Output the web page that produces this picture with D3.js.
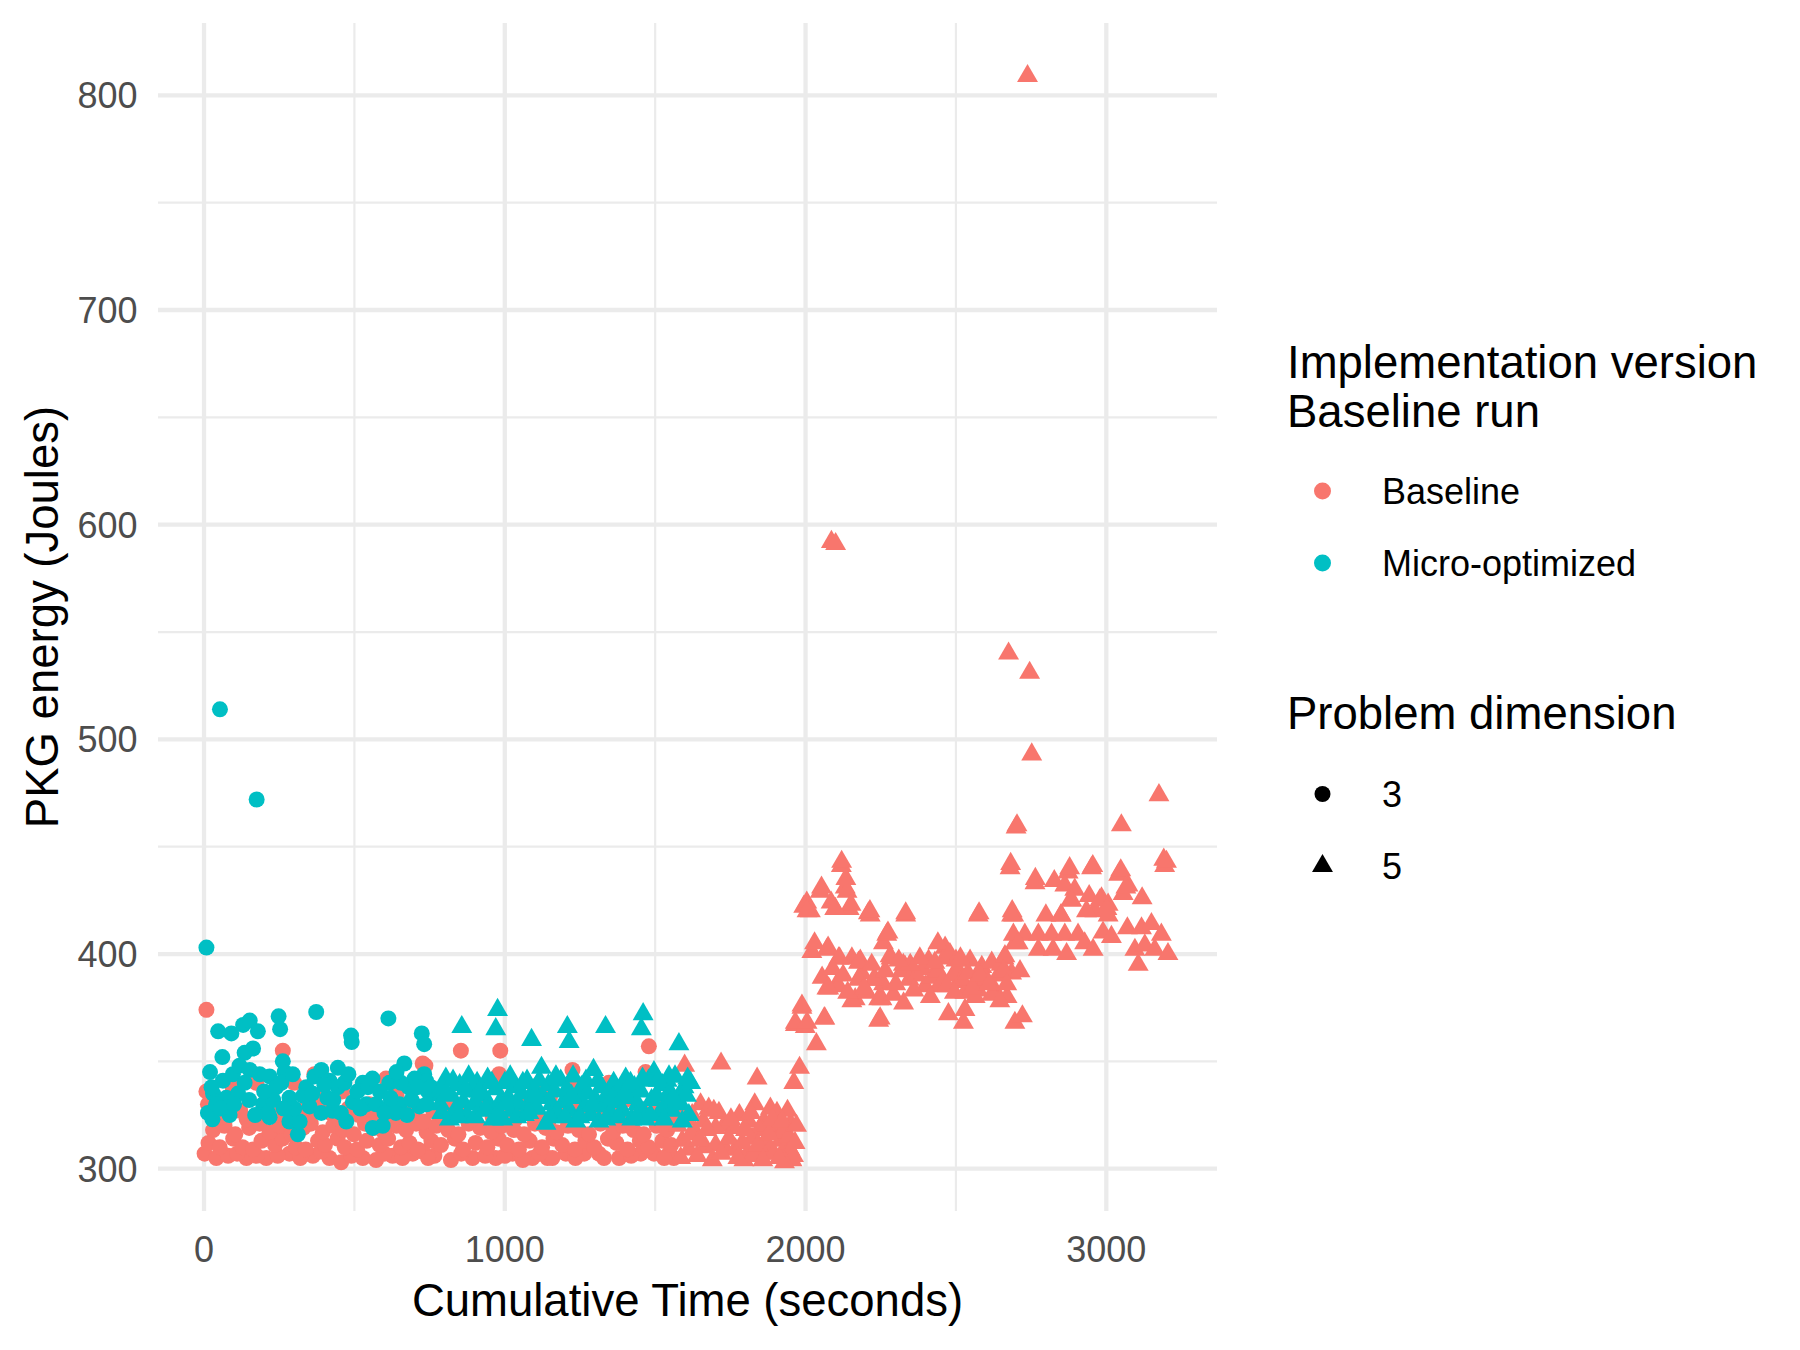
<!DOCTYPE html>
<html>
<head>
<meta charset="utf-8">
<script src="https://cdn.jsdelivr.net/npm/d3@7"></script>
<style>
  body { margin: 0; background: #fff; }
  svg { display: block; font-family: "Liberation Sans", Arial, Helvetica, sans-serif; }
</style>
</head>
<body>
<svg width="1800" height="1350"></svg>
<script>
WIDTH = 1800;
HEIGHT = 1350;

const versions = ['Baseline', 'Micro-optimized'];
const versionColors = ['#F8766D', '#00BFC4'];
const dimensions = ['3', '5'];
const xTicks = [0, 1000, 2000, 3000];
const xMinor = [500, 1500, 2500];
const yTicks = [300, 400, 500, 600, 700, 800];
const yMinor = [350, 450, 550, 650, 750];

// [cumulative time (s), PKG energy (J)]
const baselineDim3 = [
  [8,374],[262,355],[854,355],[985,355],[1479,357],[1225,346],[736,348],[727,349],[8,336],[13,330],
  [981,344],[174,340],[367,344],[373,333],[622,341],[605,342],[1346,340],[1468,345],[1220,340],[1100,338],
  [460,336],[300,340],[95,338],[560,324],[800,333],[1050,331],[1150,333],[1400,332],[1520,330],[640,334],
  [910,331],[1290,328],
  [2,307],[41,305],[80,306],[141,305],[207,305],[284,307],[362,306],[417,305],[456,303],[528,305],
  [572,304],[627,306],[694,307],[727,308],[766,306],[821,304],[893,305],[970,305],[1026,307],[1092,305],
  [1142,305],[1203,307],[1264,307],[1313,307],[1380,305],[1452,307],[1490,308],[1158,305],[1330,305],[1562,305],
  [1546,307],[1496,307],[110,307],[175,306],[245,306],[320,305],[390,308],[490,306],[600,307],[660,305],
  [745,305],[855,307],[935,306],[1000,306],[1060,304],[1115,307],[1235,305],[1420,306],[1530,305],
  [15,312],[52,310],[97,314],[128,310],[163,309],[191,313],[236,311],[261,314],[305,310],[338,309],
  [379,313],[402,311],[444,314],[468,310],[509,309],[541,313],[584,311],[612,314],[655,310],[683,312],
  [711,309],[756,313],[788,311],[834,314],[861,309],[903,312],[942,310],[979,314],[1008,311],[1047,309],
  [1083,313],[1124,310],[1162,314],[1191,311],[1233,309],[1268,313],[1297,310],[1343,314],[1371,312],[1408,309],
  [1449,313],[1478,310],[1524,313],[1553,311],
  [30,318],[68,320],[104,316],[150,319],[185,321],[218,317],[252,320],[290,316],[330,319],[355,321],
  [395,317],[430,320],[462,318],[498,316],[535,321],[566,319],[598,317],[640,320],[672,318],[705,321],
  [740,317],[772,320],[812,318],[846,316],[880,321],[918,319],[955,317],[990,320],[1030,318],[1064,316],
  [1100,321],[1136,319],[1172,317],[1210,320],[1246,318],[1280,316],[1318,321],[1360,317],[1392,320],[1428,318],
  [1462,316],[1505,320],[1540,318],
  [20,326],[58,324],[88,329],[120,327],[142,323],[205,328],[240,325],[275,322],[318,327],[345,324],
  [385,329],[420,326],[450,323],[480,328],[515,325],[550,330],[590,327],[628,323],[662,328],[698,325],
  [730,322],[762,327],[795,324],[826,329],[858,326],[890,323],[925,328],[960,324],[998,327],[1035,323],
  [1070,328],[1110,325],[1145,322],[1180,327],[1215,324],[1252,329],[1285,326],[1325,323],[1355,328],[1388,325],
  [1420,322],[1455,327],[1492,324],[1515,329],[1550,325]
];

const baselineDim5 = [
  [1598,348],[1719,349],[1839,342],[1651,330],[1678,328],[1623,325],[1728,320],[1761,319],[1701,319],[1831,330],
  [1883,328],[1861,322],[1811,322],[1900,319],[1950,321],[1822,314],[1867,313],[1916,313],[1938,311],[1955,304],
  [1634,317],[1667,310],[1701,311],[1734,309],[1767,309],[1806,306],[1850,307],[1883,309],[1590,313],[1612,309],
  [1980,347],[1961,340],[1575,320],[1585,305],[1605,323],[1640,306],[1660,322],[1690,304],[1712,326],[1745,314],
  [1780,325],[1790,312],[1795,304],[1825,306],[1845,318],[1870,320],[1895,307],[1905,326],[1925,317],[1940,327],
  [1948,309],[1960,306],[1930,303],
  [1580,328],[1618,316],[1645,313],[1672,318],[1695,327],[1720,307],[1752,323],[1775,305],[1800,318],[1818,326],
  [1842,311],[1858,304],[1878,316],[1890,323],[1912,305],[1922,322],[1945,315],[1965,312],[1970,320],
  [1988,375],[1966,367],[1999,366],[2064,370],[2036,358],
  [2021,401],[2071,402],[2110,398],[2154,398],[2182,397],[2259,405],[2055,389],[2104,386],[2071,384],[2187,391],
  [2232,388],[2259,386],[2165,379],[2243,379],[2243,369],[2030,405],[2075,403],[2113,398],[2176,396],[2281,399],
  [2331,394],[2351,394],[2409,397],[2464,403],[2461,398],[2547,397],[2586,394],[2660,398],[2685,391],[2696,405],
  [2110,385],[2077,384],[2176,388],[2226,388],[2204,382],[2154,378],[2254,379],[2292,381],[2326,377],[2398,385],
  [2442,385],[2508,387],[2530,382],[2574,383],[2630,383],[2619,396],[1988,376],[1966,368],[2005,368],[2062,370],
  [2248,370],[2475,372],[2530,374],[2696,368],[2525,368],[2619,381],[2564,380],[2320,392],[2345,388],[2370,390],
  [2390,393],[2420,389],[2440,392],[2455,387],[2490,390],[2505,393],[2520,388],[2540,391],[2560,386],[2600,388],
  [2640,390],[2440,405],[2480,400],[2500,397],[2325,395],[2348,395],[2284,398],
  [2090,393],[2125,390],[2140,382],[2195,384],[2220,395],[2265,392],[2300,386],[2310,397],[2360,383],[2380,398],
  [2415,380],[2430,396],[2470,385],[2495,382],[2515,398],[2555,384],[2580,390],[2610,386],[2650,395],[2670,380],
  [2119,441],[2049,429],[2132,431],[2138,429],[2097,421],[2145,421],[2209,419],[2215,418],[2333,418],[2574,418],
  [2692,418],[2270,409],[2085,424],[2053,431],[2004,424],[1994,422],[2016,420],[2151,423],[2214,420],[2274,410],
  [2333,419],[2577,419],[2687,420],[2005,420],[2099,421],
  [3175,474],[2700,459],[3050,460],[3191,444],[3194,441],[2680,440],[2763,433],[2827,434],[2873,438],[2862,432],
  [2895,430],[2951,440],[3041,437],[3072,432],[3056,428],[3119,426],[2881,425],[2984,426],[3006,423],[2962,420],
  [3006,418],[2685,418],[2799,418],[2849,418],[2934,420],[3070,412],[3117,412],[3150,414],[3183,409],[2691,409],
  [2729,409],[2774,409],[2818,409],[2862,409],[2906,409],[2707,405],[2774,402],[2823,402],[2868,400],[2928,405],
  [2956,402],[2989,410],[3017,408],[3095,402],[3128,404],[3161,402],[3205,400],[3106,395],[2663,399],[2658,392],
  [2713,392],[2669,386],[2646,378],[2721,371],[2878,440],[2764,435],[3065,431],[2943,427],[2978,425],[3002,421],
  [2850,418],[2885,425],
  [2738,809],[2086,592],[2100,591],[2675,540],[2745,531],[2752,493],[2703,460],[3200,443],[2120,443],[2682,442],
  [2955,441],[2134,435],[3048,439]
];

const microDim3 = [
  [53,514],[175,472],[8,403],
  [47,364],[91,363],[130,367],[152,369],[179,364],[248,371],[253,365],[373,373],[489,362],[491,359],[613,370],
  [724,363],[732,358],
  [61,352],[135,354],[163,356],[262,350],[268,345],[63,341],[96,344],[118,348],[152,346],[185,344],
  [218,343],[30,335],[74,333],[113,335],[13,326],[28,323],[196,330],[218,324],[240,338],[257,340],
  [284,333],[213,326],[284,322],[312,316],[318,322],[340,338],[367,343],[390,346],[417,341],[445,347],
  [351,329],[390,326],[428,327],[473,322],[445,338],[467,340],[528,340],[495,331],[539,330],[572,330],
  [616,340],[650,330],[666,349],[561,319],[594,320],[616,329],[638,326],[716,329],[732,344],
  [738,341],[760,335],[680,338],[700,342],[745,336],
  [20,345],[40,330],[85,325],[150,332],[170,325],[230,332],[300,328],[330,334],[410,333],[455,326],
  [510,336],[545,338],[585,336],[620,333],[655,340],[690,332],[740,330],[755,338],
  [25,338],[55,328],[100,330],[135,340],[200,336],[265,328],[295,344],[360,335],[400,339],[430,332],
  [480,344],[520,328],[560,342],[600,326],[640,345],[675,325],[710,338]
];

const microDim5 = [
  [857,366],[976,374],[970,365],[1089,360],[1208,366],[1214,359],[1335,366],[1460,372],[1454,365],[1579,358],
  [804,342],[1122,347],[1295,346],[1496,345],[943,342],[1540,341],[1596,338],[1546,343],
  [785,330],[792,338],[816,323],[822,334],[838,328],[850,339],[862,331],[875,325],[884,336],[897,330],
  [908,340],[918,327],[930,334],[951,329],[962,323],[970,337],[984,331],[993,323],[1000,340],[1012,333],
  [1024,327],[1033,338],[1045,330],[1056,335],[1065,325],[1074,341],[1086,332],[1098,337],[1108,328],[1128,333],
  [1137,321],[1145,339],[1156,330],[1166,336],[1175,326],[1186,341],[1195,331],[1206,337],[1216,327],[1227,343],
  [1236,322],[1244,333],[1255,338],[1266,329],[1276,335],[1286,325],[1302,332],[1313,322],[1320,338],[1331,329],
  [1342,335],[1352,326],[1362,340],[1372,331],[1383,337],[1392,327],[1402,342],[1412,333],[1422,323],[1431,338],
  [1442,330],[1452,336],[1462,326],[1468,323],[1478,341],[1488,332],[1505,334],[1515,326],[1524,339],[1535,330],
  [1548,336],[1556,327],[1566,343],[1575,332],[1585,330],[1604,334],[1612,325],[1618,340],
  [790,326],[808,335],[828,341],[845,324],[868,337],[880,343],[902,324],[915,336],[936,328],[957,340],
  [978,326],[1005,330],[1018,343],[1040,324],[1060,340],[1080,326],[1102,334],[1115,341],[1150,324],[1170,343],
  [1200,324],[1222,334],[1250,324],[1270,341],[1292,330],[1310,341],[1336,323],[1358,333],[1378,324],[1398,335],
  [1418,340],[1438,324],[1458,342],[1484,325],[1510,341],[1530,323],[1560,333],[1590,322],[1608,342]
];

const series = [
  {version: 0, dim: 0, data: baselineDim3},
  {version: 0, dim: 1, data: baselineDim5},
  {version: 1, dim: 0, data: microDim3},
  {version: 1, dim: 1, data: microDim5},
];

const panel = {left: 158, right: 1217, top: 23, bottom: 1211};
const GRID = '#EBEBEB';
const TRI = d3.symbol().type(d3.symbolTriangle).size(190);

function drawChart() {
  const svg = d3.select('svg');

  const x = d3.scaleLinear().domain([-153, 3368]).range([panel.left, panel.right]);
  const y = d3.scaleLinear().domain([280.3, 833.7]).range([panel.bottom, panel.top]);

  const grid = svg.append('g');
  // minor lines first, like ggplot
  grid.selectAll('.xminor').data(xMinor).join('line')
    .attr('x1', (d) => x(d)).attr('x2', (d) => x(d))
    .attr('y1', panel.top).attr('y2', panel.bottom)
    .attr('stroke', GRID).attr('stroke-width', 2.2);
  grid.selectAll('.yminor').data(yMinor).join('line')
    .attr('y1', (d) => y(d)).attr('y2', (d) => y(d))
    .attr('x1', panel.left).attr('x2', panel.right)
    .attr('stroke', GRID).attr('stroke-width', 2.2);
  grid.selectAll('.xmajor').data(xTicks).join('line')
    .attr('x1', (d) => x(d)).attr('x2', (d) => x(d))
    .attr('y1', panel.top).attr('y2', panel.bottom)
    .attr('stroke', GRID).attr('stroke-width', 4.3);
  grid.selectAll('.ymajor').data(yTicks).join('line')
    .attr('y1', (d) => y(d)).attr('y2', (d) => y(d))
    .attr('x1', panel.left).attr('x2', panel.right)
    .attr('stroke', GRID).attr('stroke-width', 4.3);

  // tick labels
  svg.append('g').selectAll('text').data(xTicks).join('text')
    .attr('x', (d) => x(d)).attr('y', 1262)
    .attr('text-anchor', 'middle')
    .attr('font-size', 36).attr('fill', '#4D4D4D')
    .text((d) => d);
  svg.append('g').selectAll('text').data(yTicks).join('text')
    .attr('x', 137.5).attr('y', (d) => y(d) + 13)
    .attr('text-anchor', 'end')
    .attr('font-size', 36).attr('fill', '#4D4D4D')
    .text((d) => d);

  // axis titles
  svg.append('text')
    .attr('x', (panel.left + panel.right) / 2).attr('y', 1316)
    .attr('text-anchor', 'middle').attr('font-size', 45.5)
    .text('Cumulative Time (seconds)');
  svg.append('text')
    .attr('transform', `translate(58, ${(panel.top + panel.bottom) / 2}) rotate(-90)`)
    .attr('text-anchor', 'middle').attr('font-size', 45.5)
    .text('PKG energy (Joules)');

  // points
  const pts = svg.append('g');
  series.forEach((s) => {
    const col = versionColors[s.version];
    if (s.dim === 0) {
      pts.append('g').selectAll('circle').data(s.data).join('circle')
        .attr('cx', (d) => x(d[0])).attr('cy', (d) => y(d[1]))
        .attr('r', 8).attr('fill', col);
    } else {
      pts.append('g').selectAll('path').data(s.data).join('path')
        .attr('transform', (d) => `translate(${x(d[0])}, ${y(d[1])})`)
        .attr('d', TRI).attr('fill', col);
    }
  });

  // legends
  const lg = svg.append('g').attr('font-size', 45.5);
  lg.append('text').attr('x', 1287).attr('y', 378).text('Implementation version');
  lg.append('text').attr('x', 1287).attr('y', 427).text('Baseline run');
  versions.forEach((v, i) => {
    const cy = 491 + i * 72;
    lg.append('circle').attr('cx', 1322.5).attr('cy', cy).attr('r', 8.5).attr('fill', versionColors[i]);
    lg.append('text').attr('x', 1382).attr('y', cy + 13).attr('font-size', 36).text(v);
  });

  lg.append('text').attr('x', 1287).attr('y', 729).text('Problem dimension');
  dimensions.forEach((dim, i) => {
    const cy = 794 + i * 72;
    if (i === 0) {
      lg.append('circle').attr('cx', 1322.5).attr('cy', cy).attr('r', 8).attr('fill', '#000');
    } else {
      lg.append('path').attr('transform', `translate(1322.5, ${cy})`).attr('d', TRI).attr('fill', '#000');
    }
    lg.append('text').attr('x', 1382).attr('y', cy + 13).attr('font-size', 36).text(dim);
  });
}

drawChart();
</script>
</body>
</html>
